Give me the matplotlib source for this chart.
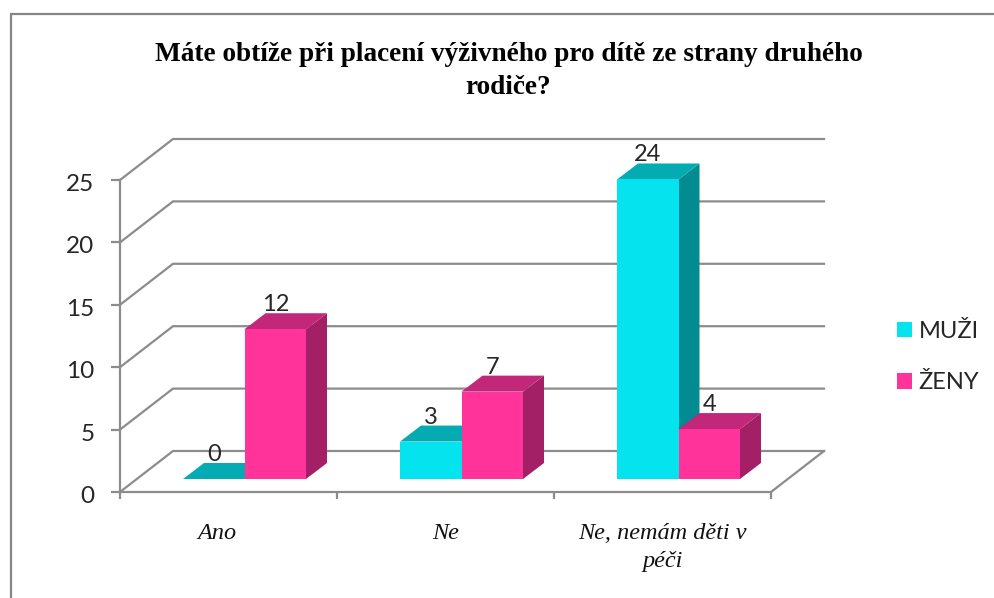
import matplotlib
matplotlib.use('Agg')
import matplotlib.pyplot as plt
from matplotlib.patches import Polygon, Patch
from matplotlib.lines import Line2D
from matplotlib.transforms import ScaledTranslation

W = 994
H = 598

title = 'Máte obtíže při placení výživného pro dítě ze strany druhého\nrodiče?'
categories = ['Ano', 'Ne', 'Ne, nemám děti v\npéči']
muzi = [0, 3, 24]
zeny = [12, 7, 4]
yticks = [0, 5, 10, 15, 20, 25]

GRID = '#8c8c8c'
TEXT = '#262626'
C_M = ('#05e3ee', '#04abb3', '#038b92')
C_Z = ('#ff3399', '#c2277a', '#a32066')

# plot box in pixels, the axes runs in category / value units
left, right, top, bottom = 120, 771, 180, 492
cat_px = (right - left) / 3
val_px = (bottom - top) / 25

fig = plt.figure(figsize=(W / 100, H / 100), dpi=100)
ax = fig.add_axes([left / W, 1 - bottom / H, (right - left) / W, (bottom - top) / H])
ax.set_xlim(0, 3)
ax.set_ylim(0, 25)
ax.patch.set_visible(False)

# depth of the wall and of the bars, in data units
wall_dx = 53 / cat_px
wall_dy = 41 / val_px
bar_dx = 21 / cat_px
bar_dy = 16 / val_px
bar_start = 63 / cat_px
base_y = 13 / val_px
bar_w = 61.5 / cat_px


def poly(pts, color, z):
    ax.add_patch(Polygon(pts, closed=True, fc=color, ec='none', clip_on=False, zorder=z))


def bar3d(x0, v, cols, z):
    y0 = base_y
    y1 = y0 + v
    x1 = x0 + bar_w
    poly([(x0, y0), (x1, y0), (x1, y1), (x0, y1)], cols[0], z + 0.2)
    poly([(x0, y1), (x1, y1), (x1 + bar_dx, y1 + bar_dy), (x0 + bar_dx, y1 + bar_dy)], cols[1], z + 0.1)
    poly([(x1, y0), (x1 + bar_dx, y0 + bar_dy), (x1 + bar_dx, y1 + bar_dy), (x1, y1)], cols[2], z)
    ax.text(x0 + bar_w / 2, y1 + bar_dy + 2 / val_px, str(v), ha='center', va='baseline',
            fontsize=17, family='Lato', color=TEXT, zorder=z + 0.3)


# walls
for t in yticks:
    ax.plot([0, wall_dx, 3 + wall_dx], [t, t + wall_dy, t + wall_dy], color=GRID, lw=1.6,
            clip_on=False, zorder=1, solid_joinstyle='miter')
ax.plot([3, 3 + wall_dx], [0, wall_dy], color=GRID, lw=1.6, clip_on=False, zorder=1)

for i in range(3):
    bar3d(i + bar_start, muzi[i], C_M, 2 + i)
    bar3d(i + bar_start + bar_w, zeny[i], C_Z, 2.5 + i)

for s in ['top', 'right']:
    ax.spines[s].set_visible(False)
for s in ['left', 'bottom']:
    ax.spines[s].set_color(GRID)
    ax.spines[s].set_linewidth(1.6)

ax.set_yticks(yticks)
ax.set_yticklabels([str(t) for t in yticks], fontsize=17.5, family='Lato', color=TEXT)
ax.tick_params(axis='y', length=6.5, width=1.6, color=GRID, pad=12)
# the numbers sit a little under their ticks in the original
for lab in ax.get_yticklabels():
    lab.set_transform(lab.get_transform() + ScaledTranslation(0, -2.5 / 100, fig.dpi_scale_trans))
ax.set_xticks([0, 1, 2, 3])
ax.set_xticklabels([])
ax.tick_params(axis='x', which='major', length=5, width=1.6, color=GRID)
ax.set_xticks([0.447, 1.5, 2.5], minor=True)
ax.set_xticklabels(categories, minor=True, fontsize=17.5, family='Liberation Serif', style='italic',
                   color='#111111', linespacing=1.45)
ax.tick_params(axis='x', which='minor', length=0, pad=22)

handles = [Patch(fc=C_M[0], ec='none'), Patch(fc=C_Z[0], ec='none')]
fig.legend(handles, ['MUŽI', 'ŽENY'], loc='center left', bbox_to_anchor=(876 / W, 1 - 357 / H), frameon=False,
           prop={'family': 'Lato', 'size': 17}, labelcolor=TEXT, handlelength=0.62, handleheight=0.62,
           handletextpad=0.28, labelspacing=1.3)

fig.text(508.5 / W, 1 - 71 / H, title, ha='center', va='center', fontsize=19.6, family='Liberation Serif',
         weight='bold', color='black', linespacing=1.37)

# outer frame, runs off the picture on the right and the bottom
fig.add_artist(Line2D([10.7 / W, 10.7 / W, 1], [0, 1 - 14 / H, 1 - 14 / H], color='#868686', lw=1.6,
                      solid_joinstyle='miter'))

fig.savefig('out.png', dpi=100)
